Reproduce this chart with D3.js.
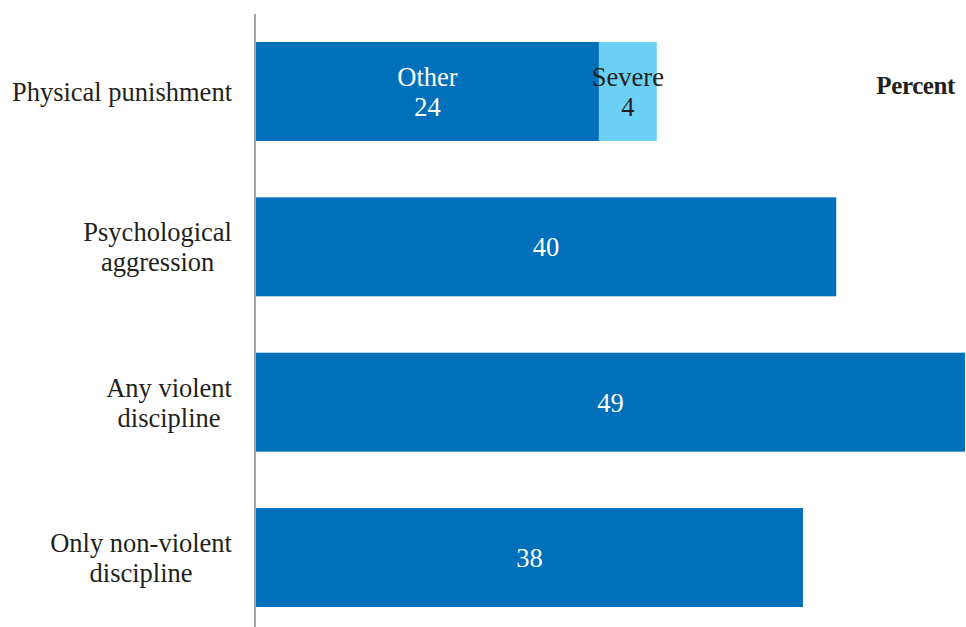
<!DOCTYPE html>
<html><head><meta charset="utf-8">
<script src="https://cdn.jsdelivr.net/npm/d3@7"></script>
<style>body{margin:0;background:#fff}svg{display:block}</style>
</head><body>
<svg id="c" width="966" height="627"></svg>
<script>
const categories = ["Physical punishment", "Psychological aggression", "Any violent discipline", "Only non-violent discipline"];
const categoryLines = [["Physical punishment"], ["Psychological", "aggression"], ["Any violent", "discipline"], ["Only non-violent", "discipline"]];
const otherValues = [23.7, 40.1, 49.0, 37.8];
const severeValues = [4.0, 0, 0, 0];
const otherLabels = ["24", "40", "49", "38"];
const severeLabels = ["4", "", "", ""];
const segmentNames = ["Other", "Severe"];
const unitLabel = "Percent";

const FONT = "Liberation Serif";
const FS = 26.5;
const svg = d3.select("#c");
const W = 966, H = 627;
const x = d3.scaleLinear().domain([0, 49]).range([256, 965]);
const y = d3.scaleBand().domain(categories).range([42, 607]).paddingInner(0.363).paddingOuter(0);
const cDark = "#0070ba", cLight = "#6dd0f6", txt = "#231f20";

function label(sel, s, xx, yy, fill, anchor) {
  return sel.append("text").attr("font-family", FONT).attr("font-size", FS)
    .attr("x", xx).attr("y", yy).attr("fill", fill).attr("text-anchor", anchor || "middle").text(s);
}

svg.append("line").attr("x1", 255).attr("x2", 255).attr("y1", 14).attr("y2", H)
  .attr("stroke", "#a6a6a8").attr("stroke-width", 2);

const g = svg.append("g");
categories.forEach((c, i) => {
  const y0 = y(c), bw = y.bandwidth(), cy = y0 + bw / 2;
  g.append("rect").attr("x", x(0)).attr("y", y0).attr("width", x(otherValues[i]) - x(0)).attr("height", bw).attr("fill", cDark);
  if (severeValues[i] > 0) {
    g.append("rect").attr("x", x(otherValues[i])).attr("y", y0).attr("width", x(otherValues[i] + severeValues[i]) - x(otherValues[i])).attr("height", bw).attr("fill", cLight);
    const mx1 = (x(0) + x(otherValues[i])) / 2;
    label(g, segmentNames[0], mx1, cy - 5, "#fff");
    label(g, otherLabels[i], mx1, cy + 24.5, "#fff");
    const mx2 = (x(otherValues[i]) + x(otherValues[i] + severeValues[i])) / 2;
    label(g, segmentNames[1], mx2, cy - 5, txt);
    label(g, severeLabels[i], mx2, cy + 24.5, txt);
  } else {
    label(g, otherLabels[i], (x(0) + x(otherValues[i])) / 2, cy + 9.5, "#fff");
  }
  const lines = categoryLines[i];
  const lh = 30;
  const tmp = lines.map(l => label(svg, l, 0, 0, txt));
  const maxW = d3.max(tmp, t => t.node().getComputedTextLength());
  const center = 232 - maxW / 2;
  const base = cy + 9.5;
  tmp.forEach((t, k) => {
    t.attr("x", center).attr("y", base + (k - (lines.length - 1) / 2) * lh);
  });
});

svg.append("text").attr("font-family", FONT).attr("x", 955).attr("y", 93.5).attr("text-anchor", "end").attr("font-size", 25)
  .attr("font-weight", "bold").attr("fill", txt).attr("letter-spacing", -0.4).text(unitLabel);
</script>
</body></html>
